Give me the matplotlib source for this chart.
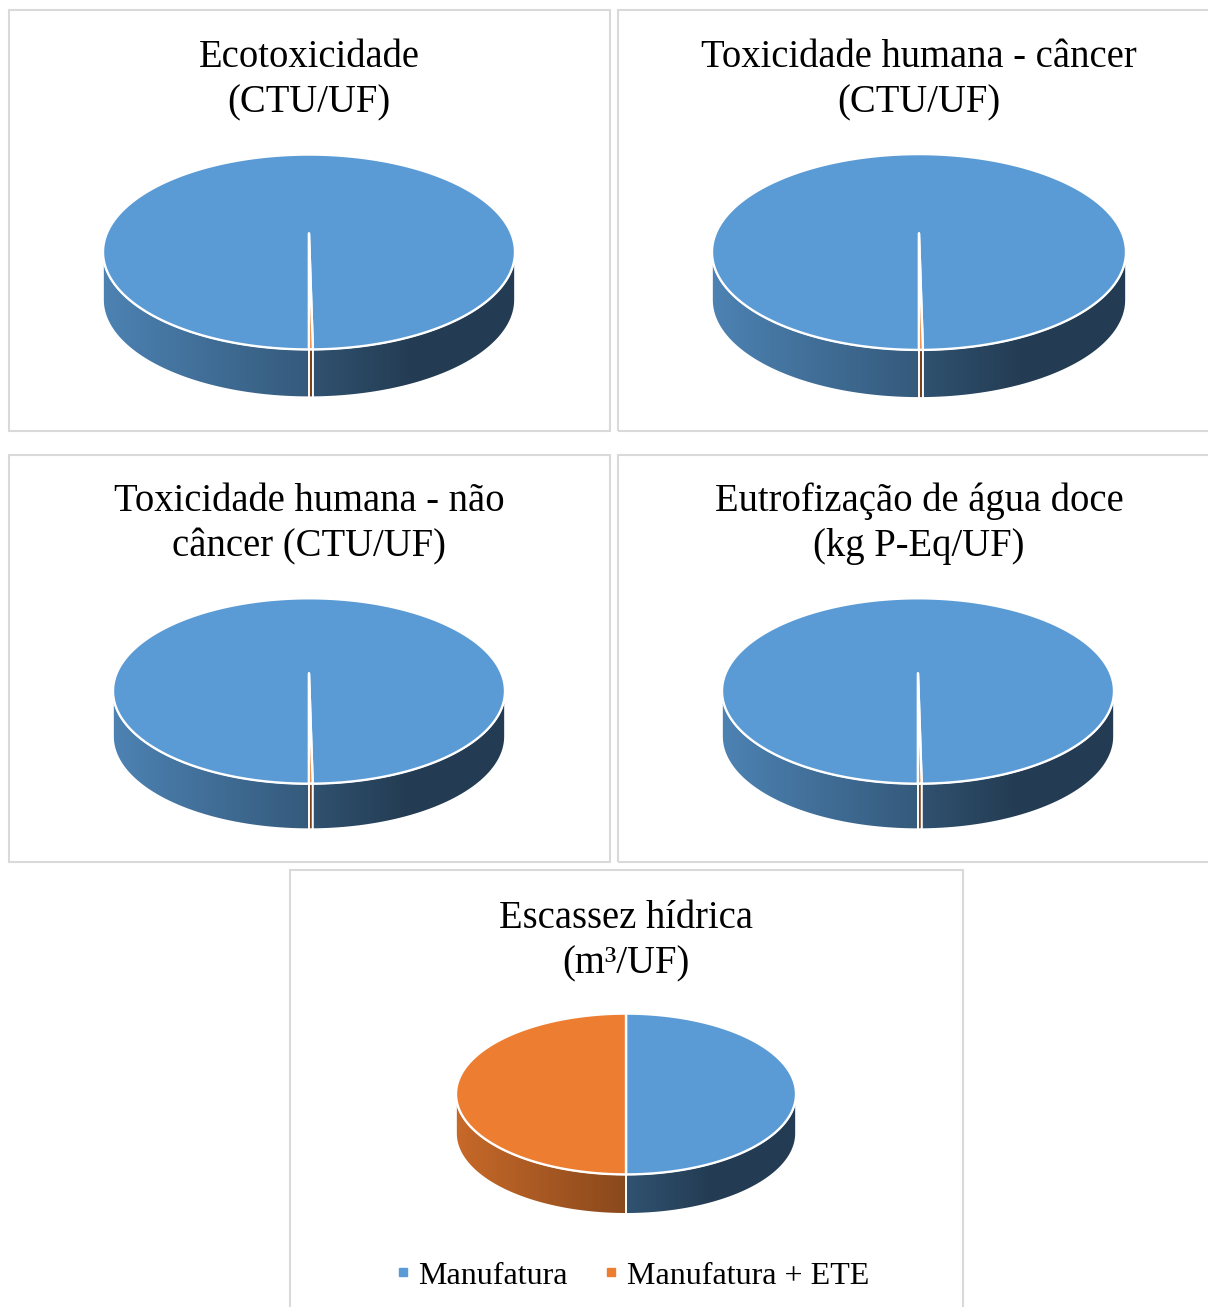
import numpy as np
import matplotlib
matplotlib.use('Agg')
import matplotlib.pyplot as plt
from matplotlib.patches import Polygon, Rectangle
from matplotlib.lines import Line2D
from matplotlib.colors import to_rgb

plt.rcParams['font.family'] = ['Liberation Serif', 'DejaVu Serif']

W, H = 1208, 1307

# dados
series = ['Manufatura', 'Manufatura + ETE']
colors = ['#5B9BD5', '#ED7D31']
titles = ['Ecotoxicidade\n(CTU/UF)',
          'Toxicidade humana - câncer\n(CTU/UF)',
          'Toxicidade humana - não\ncâncer (CTU/UF)',
          'Eutrofização de água doce\n(kg P-Eq/UF)',
          'Escassez hídrica\n(m³/UF)']
manufatura = [99.7, 99.7, 99.7, 99.7, 50.0]
manufatura_ete = [0.3, 0.3, 0.3, 0.3, 50.0]
first_angle = [180, 180, 180, 180, 0]   # angulo da primeira fatia (graus, sentido horario)

# layout (pixels)
panels = [(9, 10, 601, 421), (618, 10, 596, 421), (9, 455, 601, 407),
          (618, 455, 596, 407), (290, 870, 673, 450)]
title_pos = [(309, 80), (919, 80), (309, 524), (919, 524), (626, 941)]
pie_geom = [(309, 252, 206), (919, 252, 207), (309, 691, 196), (918, 691, 196), (626, 1094, 170)]

TILT = 0.473    # ry/rx
DEPTH = 0.232   # espessura / rx
APEX = 0.09     # centro em perspectiva


def arc(a, b, n=300):
    t = np.radians(np.linspace(a, b, n))
    return np.sin(t), TILT * np.cos(t)


def shade(x):
    return np.where(x < 0, 0.84 - 0.26 * (x + 1), np.clip(0.53 - 0.28 * x, 0.39, None))


fig = plt.figure(figsize=(W / 100, H / 100), dpi=100)

for (x, y, w, h) in panels:
    fig.add_artist(Rectangle((x / W, 1 - (y + h) / H), w / W, h / H, transform=fig.transFigure,
                             fill=False, ec='#D9D9D9', lw=1.5))

xs = np.linspace(-1, 1, 600)

for i in range(5):
    cx, cy, r = pie_geom[i]
    s = 1.15
    ax = fig.add_axes([(cx - s * r) / W, 1 - (cy + s * r) / H, 2 * s * r / W, 2 * s * r / H])
    ax.set_xlim(-s, s)
    ax.set_ylim(-s, s)
    ax.axis('off')
    ax.patch.set_visible(False)

    vals = np.array([manufatura[i], manufatura_ete[i]])
    edges = first_angle[i] + np.concatenate([[0], np.cumsum(vals / vals.sum() * 360)])

    # paredes laterais
    for j in range(2):
        a, b = edges[j], edges[j + 1]
        for k in range(-1, 3):
            lo, hi = max(a, 90 + 360 * k), min(b, 270 + 360 * k)
            if hi <= lo:
                continue
            px, py = arc(lo, hi)
            verts = np.column_stack([np.concatenate([px, px[::-1]]),
                                     np.concatenate([py, py[::-1] - DEPTH])])
            poly = Polygon(verts, closed=True, fc='none', ec='white', lw=1.2, zorder=2)
            ax.add_patch(poly)
            img = np.array(to_rgb(colors[j]))[None, None, :] * shade(xs)[None, :, None]
            im = ax.imshow(img, extent=(-1, 1, -TILT - DEPTH - 0.02, TILT), aspect='auto',
                           interpolation='bilinear', zorder=1)
            im.set_clip_path(poly)

    # topo
    for j in range(2):
        px, py = arc(edges[j], edges[j + 1])
        verts = np.column_stack([np.concatenate([[0], px]), np.concatenate([[APEX], py])])
        ax.add_patch(Polygon(verts, closed=True, fc=colors[j], ec='white', lw=1.7,
                             joinstyle='round', zorder=3))
    ax.set_xlim(-s, s)
    ax.set_ylim(-s, s)

    tx, ty = title_pos[i]
    fig.text(tx / W, 1 - ty / H, titles[i], ha='center', va='center', ma='center',
             fontsize=27.8, color='black', linespacing=1.3)

handles = [Line2D([], [], marker='s', ls='', color=c, markersize=6) for c in colors]
fig.legend(handles, series, loc='center', bbox_to_anchor=(632 / W, 1 - 1276 / H), ncol=2,
           frameon=False, fontsize=23, handlelength=0.5, handletextpad=0.25, columnspacing=1.1)

plt.savefig('out.png', dpi=100)
